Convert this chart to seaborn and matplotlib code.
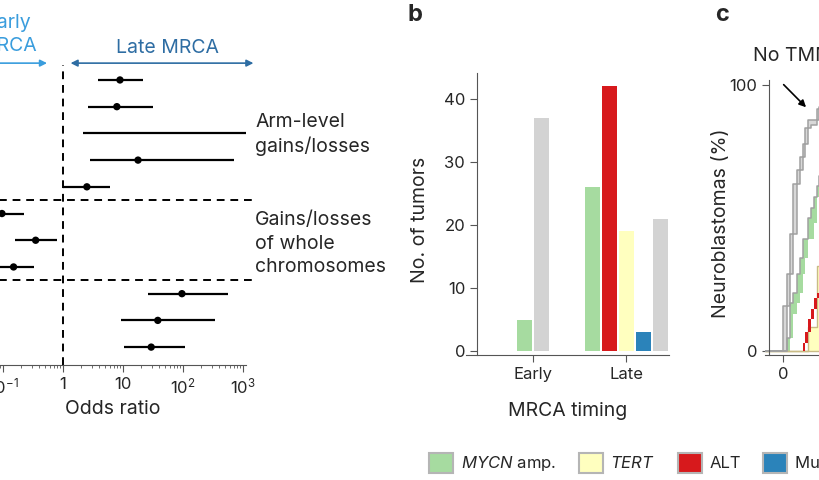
import numpy as np
import pandas as pd
import matplotlib
matplotlib.use('Agg')
import matplotlib.pyplot as plt
import seaborn as sns
from matplotlib.patches import Patch

# panel a: odds ratios (rows top to bottom)
or_est = [8.9, 7.9, np.nan, 17.8, 2.5, 0.096, 0.35, 0.15, 96, 38, 29.5]
or_lo = [3.8, 2.6, 2.15, 2.8, 1.0, 0.03, 0.16, 0.03, 26, 9.3, 10.5]
or_hi = [21.5, 31.6, 1500, 708, 6.0, 0.22, 0.79, 0.33, 562, 340, 107]
group_breaks = [4.5, 7.5]

# panel b: tumors per MRCA timing
timing = ['Early', 'Late']
tmm_cats = ['MYCN amp.', 'ALT', 'TERT', 'Multiple TMMs', 'No TMM']
tmm_colors = ['#a6dba0', '#d7191c', '#ffffbf', '#2b83ba', '#d3d3d3']
counts_early = [5, 0, 0, 0, 37]
counts_late = [26, 42, 19, 3, 21]

# panel c: stacked step curves (%)
t = [-1.8, 0, 0.4, 0.7, 1.0, 1.4, 1.7, 2.0, 2.2, 2.5, 2.8, 3.1, 3.4, 3.6, 6]
none_hi = [0, 17, 29, 44, 63, 68, 73, 78, 84, 87, 87, 87, 91, 92, 92]
none_lo = [0, 0, 17, 29, 44, 63, 68, 73, 78, 84, 85, 85, 87, 91, 92]
mycn_hi = [0, 0, 5, 18, 22, 29, 35, 42, 42, 50, 54, 58, 62, 66, 66]
mycn_lo = [0, 0, 0, 5, 14, 18, 22, 29, 35, 42, 42, 48, 58, 62, 66]
tert_hi = [0, 0, 0, 0, 0, 0, 0, 0, 0, 9, 9, 9, 32, 32, 32]
alt_hi = [0, 0, 0, 0, 0, 0, 0, 3, 7, 12, 16, 20, 22, 24, 24]
alt_lo = [0, 0, 0, 0, 0, 0, 0, 0, 3, 7, 12, 16, 20, 22, 24]

sns.set_style('ticks')
plt.rcParams['font.family'] = ['Inter', 'DejaVu Sans']
plt.rcParams['font.size'] = 12
plt.rcParams['mathtext.fontset'] = 'custom'
plt.rcParams['mathtext.rm'] = 'Inter'
plt.rcParams['mathtext.it'] = 'Inter:italic'

LAB = 14
TICK = 12
W, H = 820, 480
fig = plt.figure(figsize=(8.2, 4.8), dpi=100)


def box(l, t_, r, b):
    return [l / W, 1 - b / H, (r - l) / W, (b - t_) / H]


# ---------- panel a ----------
ax = fig.add_axes(box(-21, 65, 246, 365))
rows = np.arange(len(or_est))
ax.set_xscale('log')
ax.hlines(rows, or_lo, or_hi, color='black', lw=1.6)
sns.scatterplot(x=or_est, y=rows, ax=ax, color='black', s=28, edgecolor='none', zorder=3)
ax.set_xlim(10 ** -1.4, 10 ** 3.05)
ax.set_ylim(10.67, -0.56)
ax.axvline(1, color='black', lw=1.4, ls=(0, (4, 3)))
for yb in group_breaks:
    ax.plot([1e-2, 10 ** 3.2], [yb, yb], color='black', lw=1.4, ls=(0, (4, 3)), clip_on=False)
for s in ['left', 'top', 'right']:
    ax.spines[s].set_visible(False)
ax.spines['bottom'].set_color('#555555')
ax.set_yticks([])
ax.set_xticks([0.1, 1, 10, 100, 1000])
ax.set_xticklabels(['$10^{-1}$', '1', '10', '$10^{2}$', '$10^{3}$'])
ax.tick_params(axis='x', which='major', length=5, color='#555555', labelsize=TICK)
ax.tick_params(axis='x', which='minor', length=2.5, color='#555555')
ax.set_xlabel('Odds ratio', fontsize=LAB)
ax.xaxis.set_label_coords(0.5, -0.115)

ax.text(10 ** 3.2, 2.05, 'Arm-level\ngains/losses', ha='left', va='center',
        linespacing=1.38, fontsize=LAB, clip_on=False)
ax.text(10 ** 3.2, 6.13, 'Gains/losses\nof whole\nchromosomes', ha='left', va='center',
        linespacing=1.38, fontsize=LAB, clip_on=False)

late_c = '#2e6da3'
early_c = '#3a9ddd'
ax.annotate('', xy=(10 ** 3.22, -0.63), xytext=(10 ** 0.08, -0.63),
            arrowprops=dict(arrowstyle='<|-|>', color=late_c, lw=1.2, mutation_scale=10),
            annotation_clip=False)
ax.text(54, -1.2, 'Late MRCA', color=late_c, ha='center', va='center', fontsize=LAB, clip_on=False)
ax.annotate('', xy=(10 ** -0.22, -0.63), xytext=(10 ** -1.5, -0.63),
            arrowprops=dict(arrowstyle='-|>', color=early_c, lw=1.2, mutation_scale=10),
            annotation_clip=False)
ax.text(10 ** -0.92, -1.7, 'Early\nMRCA', color=early_c, ha='center', va='center',
        linespacing=1.3, fontsize=LAB, clip_on=False)

# ---------- panel b ----------
axb = fig.add_axes(box(466, 73, 669, 355))
step, bw = 0.183, 0.161
for gi, vals in enumerate([counts_early, counts_late]):
    keep = [k for k, v in enumerate(vals) if v > 0]
    n = len(keep)
    for j, k in enumerate(keep):
        axb.bar(gi + (j - (n - 1) / 2) * step, vals[k], width=bw, color=tmm_colors[k],
                edgecolor='none')
axb.set_xlim(-0.72, 1.46)
axb.set_ylim(-0.63, 44.1)
axb.set_xticks(range(len(timing)))
axb.set_xticklabels(timing)
axb.set_yticks([0, 10, 20, 30, 40])
axb.spines['left'].set_position(('axes', 11 / 203))
for s in ['top', 'right']:
    axb.spines[s].set_visible(False)
for s in ['left', 'bottom']:
    axb.spines[s].set_color('#555555')
axb.tick_params(length=5, color='#555555', labelsize=TICK)
axb.set_ylabel('No. of tumors', fontsize=LAB)
axb.yaxis.set_label_coords(-0.18, 0.48)
axb.set_xlabel('MRCA timing', fontsize=LAB)
axb.xaxis.set_label_coords(0.5, -0.165)

# ---------- panel c ----------
axc = fig.add_axes(box(765, 80, 983, 355))
axc.fill_between(t, none_lo, none_hi, step='post', color='#d8d8d8', lw=0)
axc.fill_between(t, mycn_lo, mycn_hi, step='post', color='#a6dba0', lw=0)
axc.fill_between(t, 0, tert_hi, step='post', facecolor='#ffffbf', edgecolor='#c9bb86', lw=1)
axc.fill_between(t, alt_lo, alt_hi, step='post', color='#d7191c', lw=0)
cdf = pd.DataFrame({'t': t, 'hi': none_hi, 'lo': none_lo, 'mycn': mycn_hi})
for col in ['hi', 'lo', 'mycn']:
    sns.lineplot(data=cdf, x='t', y=col, ax=axc, drawstyle='steps-post', color='#a0a0a0', lw=1.1)
axc.set_xlim(-1.8, 20)
axc.set_ylim(-1.5, 102)
axc.set_xticks([0, 5, 10, 15, 20])
axc.set_yticks([0, 100])
axc.spines['left'].set_position(('axes', 4 / 218))
for s in ['top', 'right']:
    axc.spines[s].set_visible(False)
for s in ['left', 'bottom']:
    axc.spines[s].set_color('#555555')
axc.tick_params(length=5, color='#555555', labelsize=TICK)
axc.set_xlabel('')
axc.set_ylabel('Neuroblastomas (%)', fontsize=LAB)
axc.yaxis.set_label_coords(-0.16, 0.48)
axc.annotate('', xy=(2.5, 91), xytext=(-0.13, 101),
             arrowprops=dict(arrowstyle='-|>', color='black', lw=1.2, mutation_scale=10),
             annotation_clip=False)
axc.text(-3.0, 111, 'No TMM', ha='left', va='center', fontsize=LAB, clip_on=False)

# panel letters
fig.text(415 / W, 1 - 15 / H, 'b', fontsize=17, fontweight='bold', ha='center', va='center')
fig.text(722 / W, 1 - 15 / H, 'c', fontsize=17, fontweight='bold', ha='center', va='center')

# legend
leg_labels = [r'$\it{MYCN}$ amp.', r'$\it{TERT}$', 'ALT', 'Multiple TMMs']
leg_idx = [0, 2, 1, 3]
handles = [Patch(facecolor=tmm_colors[k], edgecolor='#b5b5b5', lw=1.5) for k in leg_idx]
fig.legend(handles, leg_labels, loc='center left', bbox_to_anchor=(414 / W, 1 - 463 / H),
           ncol=4, frameon=False, fontsize=12, handlelength=1.45, handleheight=1.45,
           handletextpad=0.45, columnspacing=1.35, borderpad=0.4)

fig.savefig('out.png', dpi=100)
